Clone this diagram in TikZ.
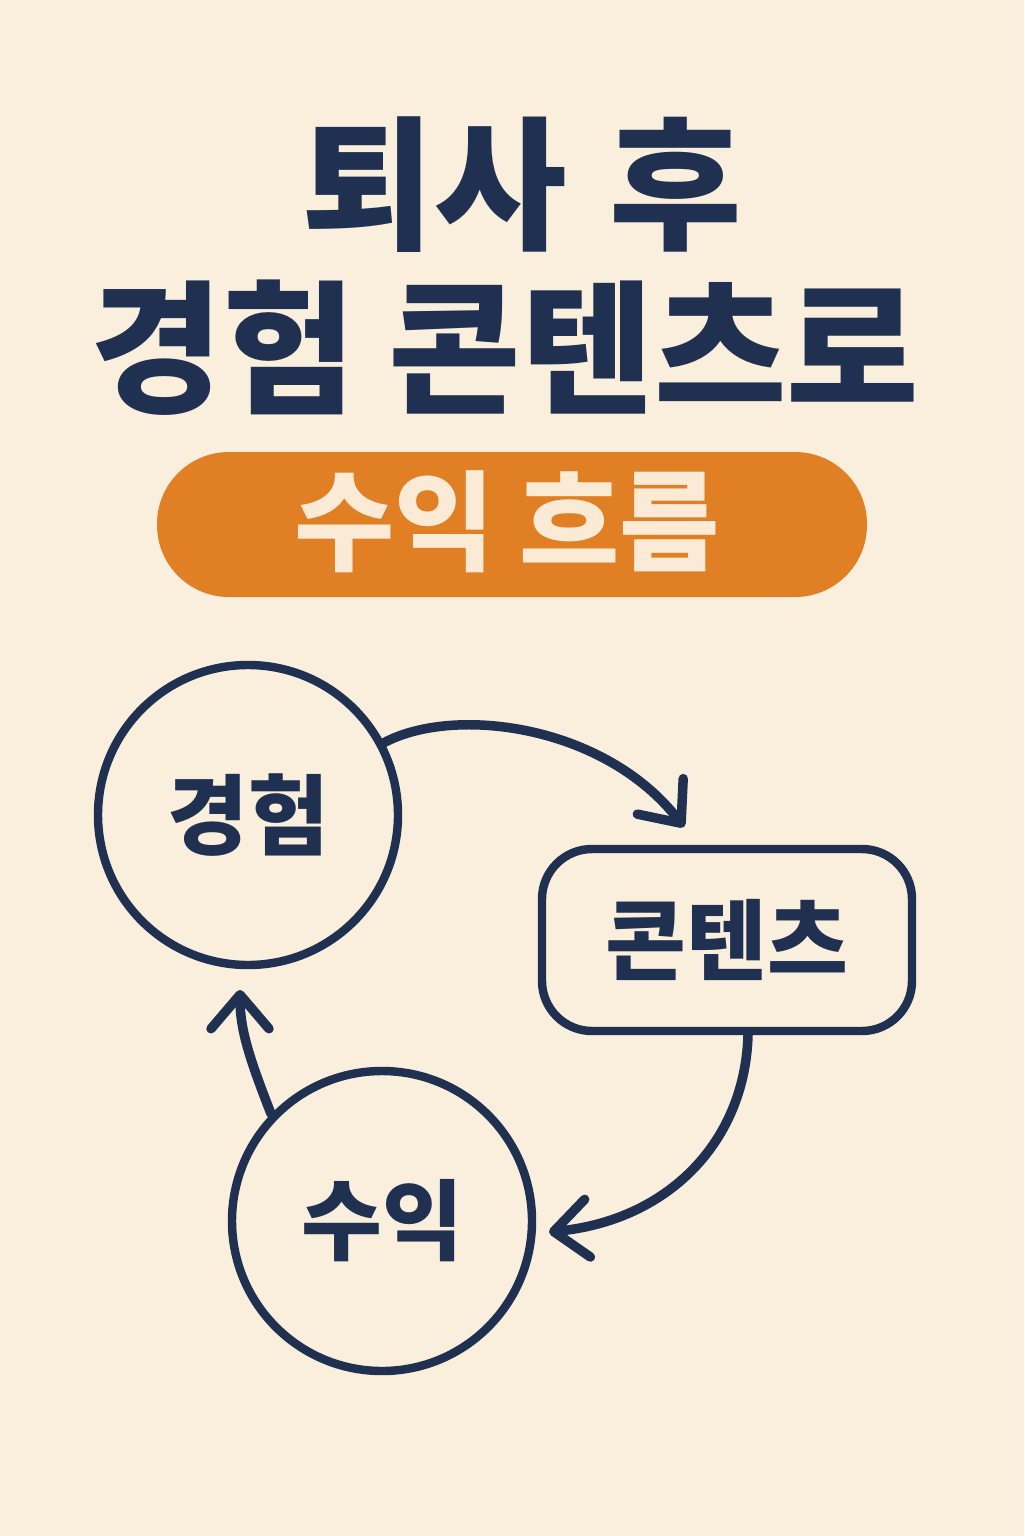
\documentclass[tikz,border=0pt]{standalone}
\usepackage{fontspec}
\newfontfamily\kor{Noto Sans CJK KR}
\usetikzlibrary{arrows.meta,positioning,calc}
\definecolor{paper}{HTML}{FAEEDC}
\definecolor{navy}{HTML}{1F3050}
\definecolor{amber}{HTML}{E07F24}
\definecolor{cream}{HTML}{FBEBD6}
\tikzset{
  >={Straight Barb[length=3.4mm,width=5.8mm,round]},
  headline/.style={font=\kor\bfseries\fontsize{41}{48}\selectfont,text=navy,inner sep=0pt},
  pill/.style={fill=amber,rounded corners=7.2mm,minimum width=7.1cm,minimum height=1.45cm},
  pilltext/.style={font=\kor\bfseries\fontsize{31}{38}\selectfont,text=cream,inner sep=0pt},
  ring/.style={circle,draw=navy,line width=2.4pt,minimum size=3cm,inner sep=0pt,
    font=\kor\bfseries\fontsize{25}{30}\selectfont,text=navy},
  panel/.style={draw=navy,rounded corners=5mm,line width=2.4pt,minimum width=3.7cm,minimum height=1.82cm,
    font=\kor\bfseries\fontsize{25}{30}\selectfont,text=navy},
  loop/.style={->,line width=2.7pt,color=navy,line cap=round},
}

\begin{document}
\begin{tikzpicture}[x=1cm,y=1cm]
  \fill[paper] (0,0) rectangle (10.24,-15.36);
  \useasboundingbox (0,0) rectangle (10.24,-15.36);

  % title
  \node[headline] (line1) at (5.22,-1.85) {퇴사\hspace{0.3em}후};
  \node[headline] (line2) at (5.05,-3.48) {경험 콘텐츠로};
  \node[pill] (band) at (5.12,-5.245) {};
  \node[pilltext] (bandtext) at (5.07,-5.22) {수익 흐름};

  % cycle
  \node[ring] (kyung) at (2.48,-8.15) {경험};
  \node[panel] (content) at (7.27,-9.40) {콘텐츠};
  \node[ring] (suik) at (3.82,-12.21) {수익};

  \coordinate (tipA) at (6.84,-8.27);
  \coordinate (tailB) at ($(content.south)+(0.21,0)$);
  \coordinate (tipB) at (5.49,-12.32);
  \coordinate (tipC) at (2.40,-9.90);

  \draw[loop] (kyung.28) .. controls (4.55,-7.05) and (6.05,-7.25) .. (tipA);
  \draw[loop] (tailB) .. controls (7.45,-11.40) and (6.70,-12.20) .. (tipB);
  \draw[loop] (suik.136) .. controls (2.50,-10.60) and (2.40,-10.30) .. (tipC);
\end{tikzpicture}
\end{document}
